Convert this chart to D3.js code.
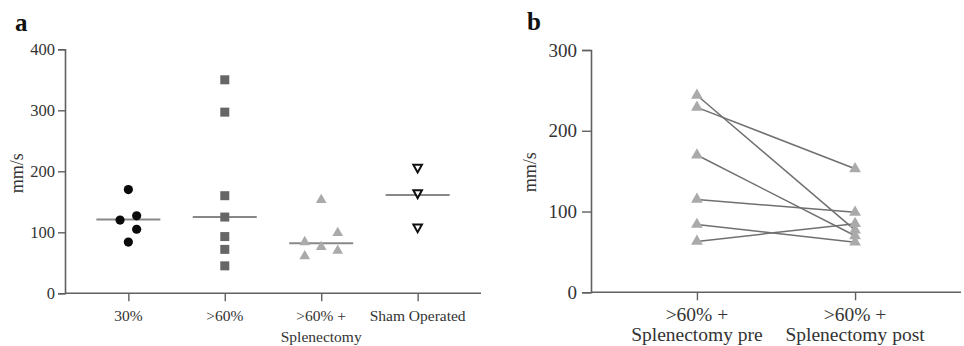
<!DOCTYPE html>
<html>
<head>
<meta charset="utf-8">
<script src="https://cdn.jsdelivr.net/npm/d3@7/dist/d3.min.js"></script>
<style>
body{margin:0;background:#fff;}
svg{display:block;}
</style>
</head>
<body>
<svg id="chart" width="964" height="346"></svg>
<script>
// ---------- Panel a data ----------
const groupsA = ["30%", ">60%", ">60% +\nSplenectomy", "Sham Operated"];
const vals30 = [170, 120, 127, 105, 84];
const slot30 = [0, -1, 1, 1, 0];
const vals60 = [350, 297, 160, 125, 93, 72, 45];
const slot60 = [0, 0, 0, 0, 0, 0, 0];
const valsSplen = [153, 84, 76, 99, 70, 61];
const slotSplen = [0, -1, 0, 1, 1, -1];
const valsSham = [205, 163, 107];
const slotSham = [0, 0, 0];
const mediansA = [121, 125, 82, 161];
const ticksA = [0, 100, 200, 300, 400];

// ---------- Panel b data ----------
const groupsB = [">60% +\nSplenectomy pre", ">60% +\nSplenectomy post"];
const preB  = [244, 229, 170, 115, 84, 63];
const postB = [77, 153, 70, 99, 62, 85];
const ticksB = [0, 100, 200, 300];

const SERIF = "'Liberation Serif', 'Times New Roman', Times, 'DejaVu Serif', serif";
const svg = d3.select("#chart");
const axisColor = "#606060";

// ================= Panel a =================
const ga = svg.append("g");
const xA = d3.scalePoint().domain(groupsA).range([65, 481]).padding(0.657);
const yA = d3.scaleLinear().domain([0, 400]).range([293.3, 49.3]);

ga.append("text").attr("x", 15).attr("y", 31).attr("font-size", 25)
  .attr("font-weight", "bold").attr("fill", "#111").text("a");

const yAxA = ga.append("g").attr("transform", "translate(65,0)")
  .call(d3.axisLeft(yA).tickValues(ticksA).tickSize(7).tickPadding(3).tickFormat(d3.format("d")));
yAxA.select(".domain").attr("stroke", axisColor).attr("stroke-width", 1.6);
yAxA.selectAll(".tick line").attr("stroke", axisColor).attr("stroke-width", 1.4);
yAxA.selectAll(".tick text").attr("font-size", 16.5).attr("fill", "#333");

const xAxA = ga.append("g").attr("transform", "translate(0,293.3)")
  .call(d3.axisBottom(xA).tickSize(8).tickFormat(""));
xAxA.select(".domain").attr("stroke", axisColor).attr("stroke-width", 1.6).attr("d", "M65,0H481");
xAxA.selectAll(".tick line").attr("stroke", axisColor).attr("stroke-width", 1.4);

groupsA.forEach(g => {
  const lines = g.split("\n");
  const t = ga.append("text").attr("text-anchor", "middle").attr("font-size", 15.5).attr("fill", "#333");
  lines.forEach((l, i) => t.append("tspan").attr("x", xA(g)).attr("y", 321 + i * 21).text(l));
});

ga.append("text")
  .attr("transform", `translate(23,${(yA(0)+yA(400))/2 + 2}) rotate(-90)`)
  .attr("text-anchor", "middle").attr("font-size", 18).attr("fill", "#333").text("mm/s");

// median lines
ga.selectAll(".median").data(mediansA).enter().append("line")
  .attr("x1", (d, i) => xA(groupsA[i]) - 32).attr("x2", (d, i) => xA(groupsA[i]) + 32)
  .attr("y1", d => yA(d)).attr("y2", d => yA(d))
  .attr("stroke", "#888").attr("stroke-width", 2);

const slotW = 8.3;
ga.selectAll(".c30").data(vals30).enter().append("circle")
  .attr("cx", (d, i) => xA(groupsA[0]) + slot30[i] * slotW).attr("cy", d => yA(d))
  .attr("r", 4.6).attr("fill", "#0a0a0a");
ga.selectAll(".s60").data(vals60).enter().append("rect")
  .attr("x", (d, i) => xA(groupsA[1]) + slot60[i] * slotW - 4.5).attr("y", d => yA(d) - 4.5)
  .attr("width", 9).attr("height", 9).attr("fill", "#666");
const triUp = d3.symbol().type(d3.symbolTriangle).size(50);
ga.selectAll(".tSp").data(valsSplen).enter().append("path")
  .attr("d", triUp)
  .attr("transform", (d, i) => `translate(${xA(groupsA[2]) + slotSplen[i] * 16.5},${yA(d)})`)
  .attr("fill", "#aaa");
const triDown = "M-4.3,-3.6L4.3,-3.6L0,4.2Z";
ga.selectAll(".tSh").data(valsSham).enter().append("path")
  .attr("d", triDown)
  .attr("transform", (d, i) => `translate(${xA(groupsA[3]) + slotSham[i] * slotW},${yA(d)})`)
  .attr("fill", "#fff").attr("stroke", "#111").attr("stroke-width", 2);

// ================= Panel b =================
const gb = svg.append("g");
const xB = d3.scalePoint().domain(groupsB).range([591, 961]).padding(0.67);
const yB = d3.scaleLinear().domain([0, 300]).range([292.3, 50]);

gb.append("text").attr("x", 527).attr("y", 30).attr("font-size", 25)
  .attr("font-weight", "bold").attr("fill", "#111").text("b");

const yAxB = gb.append("g").attr("transform", "translate(591,0)")
  .call(d3.axisLeft(yB).tickValues(ticksB).tickSize(9).tickPadding(5).tickFormat(d3.format("d")));
yAxB.select(".domain").attr("stroke", axisColor).attr("stroke-width", 1.6);
yAxB.selectAll(".tick line").attr("stroke", axisColor).attr("stroke-width", 1.4);
yAxB.selectAll(".tick text").attr("font-size", 19).attr("fill", "#333");

const xAxB = gb.append("g").attr("transform", "translate(0,292.3)")
  .call(d3.axisBottom(xB).tickSize(8).tickFormat(""));
xAxB.select(".domain").attr("stroke", axisColor).attr("stroke-width", 1.6).attr("d", "M591,0H961");
xAxB.selectAll(".tick line").attr("stroke", axisColor).attr("stroke-width", 1.4);

groupsB.forEach(g => {
  const lines = g.split("\n");
  const t = gb.append("text").attr("text-anchor", "middle").attr("font-size", 19.5).attr("fill", "#333");
  lines.forEach((l, i) => t.append("tspan").attr("x", xB(g)).attr("y", 321 + i * 20).text(l));
});

gb.append("text")
  .attr("transform", `translate(536,${(yB(0)+yB(300))/2 + 1}) rotate(-90)`)
  .attr("text-anchor", "middle").attr("font-size", 18).attr("fill", "#333").text("mm/s");

const pairs = preB.map((p, i) => [p, postB[i]]);
gb.selectAll(".pl").data(pairs).enter().append("line")
  .attr("x1", xB(groupsB[0])).attr("x2", xB(groupsB[1]))
  .attr("y1", d => yB(d[0])).attr("y2", d => yB(d[1]))
  .attr("stroke", "#707070").attr("stroke-width", 1.5);

const triB = d3.symbol().type(d3.symbolTriangle).size(60);
gb.selectAll(".tpre").data(preB).enter().append("path")
  .attr("d", triB).attr("transform", d => `translate(${xB(groupsB[0])},${yB(d)})`).attr("fill", "#aaa");
gb.selectAll(".tpost").data(postB).enter().append("path")
  .attr("d", triB).attr("transform", d => `translate(${xB(groupsB[1])},${yB(d)})`).attr("fill", "#aaa");

// force serif font on every text element
svg.selectAll("text").style("font-family", SERIF);
svg.selectAll("g").attr("font-family", null);
</script>
</body>
</html>
